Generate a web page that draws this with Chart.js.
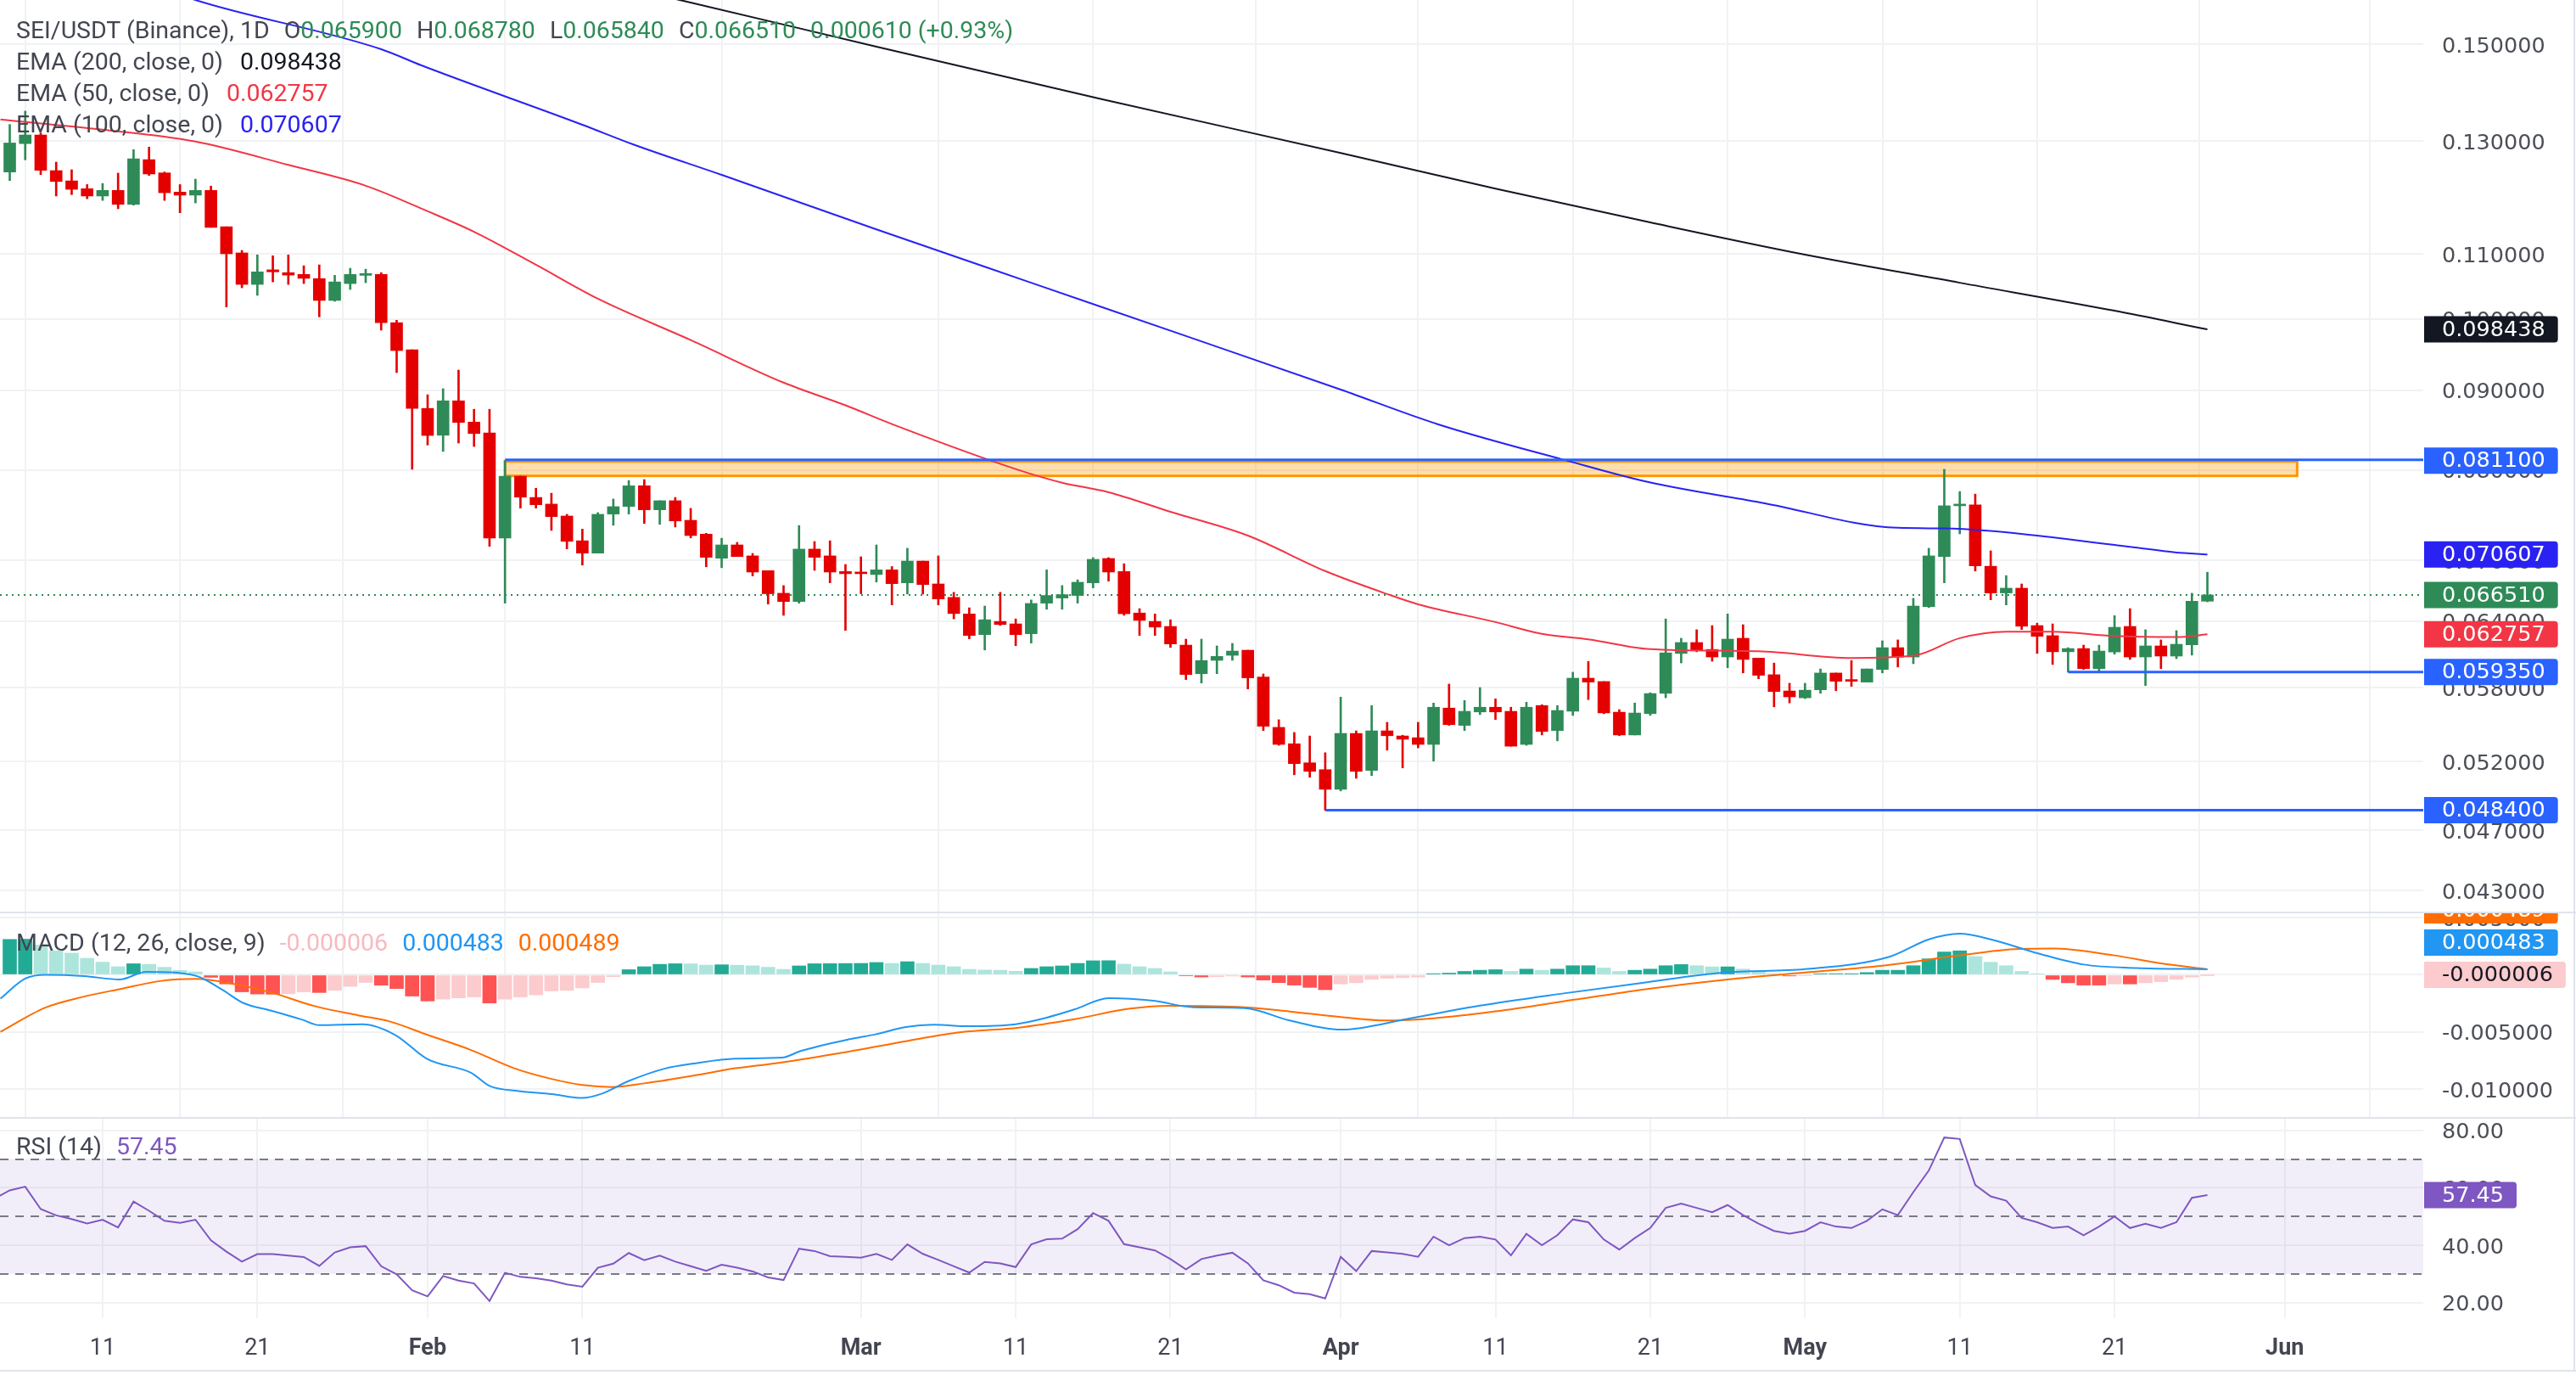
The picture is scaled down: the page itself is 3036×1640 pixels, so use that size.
<!DOCTYPE html>
<html lang="en">
<head>
<meta charset="utf-8">
<title>SEI/USDT 1D</title>
<script src="https://cdn.jsdelivr.net/npm/chart.js@4.4.1/dist/chart.umd.min.js"></script>
<style>
	html, body { margin: 0; padding: 0; background: #ffffff; overflow: hidden; }
	#board { position: relative; width: 3036px; height: 1640px; overflow: hidden; background: #ffffff; }
	#board canvas { position: absolute; left: 0; }
	.rule { position: absolute; background: #e0e3eb; }
	.legend { position: absolute; left: 19px; z-index: 5; font-family: Roboto, "Noto Sans", sans-serif; font-size: 28.5px; line-height: 37px; color: #434651; white-space: pre; }
</style>
</head>
<body>
<div id="board">
	<canvas id="priceChart" width="3036" height="1074" style="top:0"></canvas>
	<canvas id="macdChart" width="3036" height="240" style="top:1076px"></canvas>
	<canvas id="rsiChart" width="3036" height="298" style="top:1318px"></canvas>
	<div class="rule" style="left:0;top:1074px;width:3036px;height:2px"></div>
	<div class="rule" style="left:0;top:1316px;width:3036px;height:2px"></div>
	<div class="rule" style="left:0;top:1614px;width:3036px;height:2px"></div>
	<div class="rule" style="left:3033px;top:0;width:2px;height:1616px"></div>
	<div class="legend" id="priceLegend" style="top:17px"></div>
	<div class="legend" id="macdLegend" style="top:1092px"></div>
	<div class="legend" id="rsiLegend" style="top:1332px"></div>
</div>
<script>
/**
 * SEI/USDT daily chart with EMA, MACD and RSI panes.
 * Day numbers count from Jan 1 2025 (= day 0).
 */

// ---- candles (first candle is Jan 5 = day 4) ----
const firstDay = 4;
const opens = [
	0.12419, 0.12951, 0.13117, 0.12445, 0.12258, 0.12117, 0.11987, 0.12086, 0.11840, 0.12648,
	0.12403, 0.12056, 0.12002, 0.12086, 0.11455, 0.11021, 0.10520, 0.10749, 0.10704, 0.10676,
	0.10611, 0.10274, 0.10533, 0.10662, 0.10676, 0.09942, 0.09553, 0.08760, 0.08420, 0.08859,
	0.08585, 0.08449, 0.07235, 0.07926, 0.07681, 0.07606, 0.07473, 0.07205, 0.07075, 0.07495,
	0.07580, 0.07815, 0.07542, 0.07644, 0.07426, 0.07276, 0.07022, 0.07161, 0.07046, 0.06894,
	0.06668, 0.06587, 0.07117, 0.07046, 0.06885, 0.06877, 0.06855, 0.06902, 0.06771, 0.06992,
	0.06760, 0.06627, 0.06467, 0.06273, 0.06396, 0.06373, 0.06281, 0.06571, 0.06621, 0.06646,
	0.06771, 0.07019, 0.06885, 0.06476, 0.06396, 0.06349, 0.06176, 0.05921, 0.06039, 0.06084,
	0.06130, 0.05892, 0.05470, 0.05339, 0.05191, 0.05139, 0.04992, 0.05421, 0.05133, 0.05442,
	0.05401, 0.05387, 0.05334, 0.05628, 0.05486, 0.05596, 0.05635, 0.05601, 0.05334, 0.05649,
	0.05444, 0.05602, 0.05882, 0.05853, 0.05594, 0.05409, 0.05582, 0.05752, 0.06101, 0.06200,
	0.06137, 0.06069, 0.06239, 0.06059, 0.05912, 0.05772, 0.05714, 0.05782, 0.05927, 0.05870,
	0.05848, 0.05958, 0.06153, 0.06069, 0.06537, 0.07039, 0.07587, 0.07596, 0.06939, 0.06671,
	0.06718, 0.06357, 0.06263, 0.06116, 0.06145, 0.05965, 0.06114, 0.06349, 0.06069, 0.06169,
	0.06077, 0.06179, 0.06590
];
const highs = [
	0.13322, 0.13588, 0.13156, 0.12602, 0.12461, 0.12191, 0.12211, 0.12399, 0.12836, 0.12884,
	0.12419, 0.12191, 0.12289, 0.12164, 0.11455, 0.11062, 0.10989, 0.10975, 0.10989, 0.10814,
	0.10828, 0.10662, 0.10773, 0.10759, 0.10704, 0.09978, 0.09553, 0.08939, 0.09019, 0.09270,
	0.08749, 0.08749, 0.08110, 0.07926, 0.07786, 0.07729, 0.07492, 0.07330, 0.07511, 0.07663,
	0.07875, 0.07886, 0.07644, 0.07681, 0.07558, 0.07285, 0.07232, 0.07188, 0.07072, 0.06894,
	0.06744, 0.07369, 0.07197, 0.07205, 0.06957, 0.07037, 0.07161, 0.06936, 0.07126, 0.06992,
	0.07046, 0.06677, 0.06526, 0.06543, 0.06677, 0.06420, 0.06602, 0.06902, 0.06744, 0.06802,
	0.07028, 0.07028, 0.06965, 0.06518, 0.06467, 0.06412, 0.06231, 0.06231, 0.06169, 0.06192,
	0.06130, 0.05919, 0.05532, 0.05429, 0.05401, 0.05269, 0.05720, 0.05442, 0.05649, 0.05511,
	0.05407, 0.05511, 0.05670, 0.05831, 0.05691, 0.05801, 0.05705, 0.05635, 0.05677, 0.05656,
	0.05649, 0.05934, 0.06029, 0.05853, 0.05615, 0.05670, 0.05757, 0.06420, 0.06239, 0.06318,
	0.06357, 0.06467, 0.06365, 0.06059, 0.06015, 0.05838, 0.05838, 0.05963, 0.05927, 0.06037,
	0.05963, 0.06216, 0.06224, 0.06618, 0.07126, 0.08007, 0.07748, 0.07719, 0.07099, 0.06844,
	0.06760, 0.06380, 0.06373, 0.06153, 0.06176, 0.06176, 0.06451, 0.06518, 0.06318, 0.06224,
	0.06310, 0.06668, 0.06878
];
const lows = [
	0.12263, 0.12644, 0.12372, 0.11987, 0.12012, 0.11939, 0.11909, 0.11763, 0.11826, 0.12356,
	0.11909, 0.11694, 0.11865, 0.11444, 0.10175, 0.10468, 0.10352, 0.10559, 0.10520, 0.10533,
	0.10028, 0.10261, 0.10442, 0.10546, 0.09833, 0.09236, 0.08007, 0.08299, 0.08221, 0.08323,
	0.08281, 0.07146, 0.06571, 0.07561, 0.07561, 0.07316, 0.07119, 0.06951, 0.07075, 0.07372,
	0.07495, 0.07391, 0.07382, 0.07353, 0.07235, 0.06933, 0.06924, 0.07039, 0.06840, 0.06562,
	0.06454, 0.06571, 0.06897, 0.06771, 0.06312, 0.06663, 0.06779, 0.06554, 0.06660, 0.06660,
	0.06554, 0.06420, 0.06234, 0.06132, 0.06359, 0.06171, 0.06195, 0.06512, 0.06512, 0.06571,
	0.06721, 0.06788, 0.06454, 0.06265, 0.06265, 0.06155, 0.05870, 0.05840, 0.05921, 0.06039,
	0.05789, 0.05444, 0.05327, 0.05100, 0.05081, 0.04840, 0.04980, 0.05074, 0.05094, 0.05289,
	0.05152, 0.05307, 0.05204, 0.05486, 0.05444, 0.05574, 0.05534, 0.05320, 0.05327, 0.05409,
	0.05362, 0.05567, 0.05699, 0.05581, 0.05403, 0.05409, 0.05567, 0.05714, 0.06016, 0.06116,
	0.06031, 0.05973, 0.05928, 0.05877, 0.05638, 0.05671, 0.05707, 0.05752, 0.05774, 0.05811,
	0.05848, 0.05928, 0.05980, 0.06009, 0.06529, 0.06771, 0.07279, 0.06890, 0.06604, 0.06554,
	0.06320, 0.06101, 0.06002, 0.05935, 0.05958, 0.05943, 0.06094, 0.06047, 0.05818, 0.05965,
	0.06054, 0.06086, 0.06584
];
const closes = [
	0.12963, 0.13117, 0.12450, 0.12247, 0.12106, 0.11987, 0.12086, 0.11840, 0.12664, 0.12383,
	0.12045, 0.12002, 0.12086, 0.11444, 0.11007, 0.10520, 0.10717, 0.10717, 0.10666, 0.10615,
	0.10274, 0.10559, 0.10676, 0.10690, 0.09942, 0.09541, 0.08760, 0.08417, 0.08859, 0.08581,
	0.08441, 0.07235, 0.07926, 0.07684, 0.07599, 0.07467, 0.07199, 0.07075, 0.07492, 0.07577,
	0.07814, 0.07542, 0.07644, 0.07419, 0.07261, 0.07031, 0.07161, 0.07039, 0.06880, 0.06663,
	0.06587, 0.07117, 0.07031, 0.06880, 0.06863, 0.06863, 0.06902, 0.06763, 0.06992, 0.06754,
	0.06612, 0.06471, 0.06265, 0.06412, 0.06367, 0.06273, 0.06568, 0.06646, 0.06654, 0.06777,
	0.07010, 0.06880, 0.06469, 0.06406, 0.06343, 0.06187, 0.05914, 0.06037, 0.06074, 0.06122,
	0.05885, 0.05479, 0.05334, 0.05185, 0.05126, 0.04992, 0.05421, 0.05126, 0.05442, 0.05403,
	0.05375, 0.05334, 0.05635, 0.05492, 0.05601, 0.05635, 0.05596, 0.05320, 0.05635, 0.05437,
	0.05608, 0.05882, 0.05848, 0.05588, 0.05409, 0.05587, 0.05750, 0.06106, 0.06200, 0.06132,
	0.06069, 0.06231, 0.06047, 0.05907, 0.05767, 0.05722, 0.05779, 0.05927, 0.05855, 0.05855,
	0.05963, 0.06153, 0.06069, 0.06543, 0.07046, 0.07587, 0.07606, 0.06942, 0.06671, 0.06718,
	0.06351, 0.06257, 0.06116, 0.06145, 0.05965, 0.06122, 0.06341, 0.06069, 0.06169, 0.06077,
	0.06184, 0.06590, 0.06651
];

// ---- moving averages at these days ----
const ema50Days = [3.4, 10, 16, 22, 27, 31, 34, 38, 42, 48, 54, 58, 61, 69, 72, 75, 79, 84, 89, 93, 95, 100, 103, 106, 110, 117, 123, 127, 130, 133, 136, 140, 144, 146];
const ema50 = [0.1342, 0.1322, 0.1299, 0.1255, 0.1217, 0.1172, 0.1137, 0.1083, 0.1030, 0.0969, 0.0910, 0.0880, 0.0856, 0.0801, 0.0785, 0.0774, 0.0752, 0.0726, 0.0689, 0.0666, 0.0656, 0.0639, 0.0628, 0.0623, 0.0614, 0.0612, 0.0606, 0.0608, 0.0624, 0.0630, 0.0630, 0.0626, 0.0625, 0.062757];
const ema100Days = [10, 16, 28, 30.6, 41, 44.3, 50, 60, 70, 80, 90, 96.3, 104.4, 109.9, 117.4, 126, 128.9, 131.8, 139.9, 143.9, 146];
const ema100 = [0.1683, 0.1601, 0.14888, 0.14537, 0.13317, 0.12934, 0.12367, 0.11411, 0.10546, 0.09748, 0.09007, 0.08556, 0.08121, 0.07856, 0.07615, 0.07344, 0.07338, 0.07313, 0.07164, 0.07084, 0.070607];
const ema200Days = [40, 47.7, 60, 74.6, 90, 100, 110, 120, 130, 140, 146];
const ema200 = [0.16623, 0.15976, 0.14944, 0.13827, 0.12773, 0.12117, 0.11528, 0.10993, 0.10546, 0.10119, 0.098438];

// ---- drawings: supply zone and horizontal levels ----
const zoneDays = [36, 151.8];
const zonePrices = [0.0811, 0.0793];
const levelPrices = [0.0811, 0.05935, 0.0484];
const levelStartDays = [36, 137, 89];

// ---- MACD (12, 26, 9) ----
const macdHist = [
	0.0031, 0.00312, 0.0026, 0.0021, 0.0019, 0.00145, 0.00111, 0.00071, 0.00097, 0.00092,
	0.00066, 0.00039, 0.00026, -0.00022, -0.0008, -0.00149, -0.00168, -0.0017, -0.00166, -0.00149,
	-0.00155, -0.00136, -0.00101, -0.00067, -0.00091, -0.0012, -0.00186, -0.00229, -0.00213, -0.00202,
	-0.00194, -0.00247, -0.00213, -0.00194, -0.00176, -0.00141, -0.00136, -0.00115, -0.00067, -0.00016,
	0.00045, 0.00071, 0.00092, 0.00097, 0.00096, 0.00085, 0.00088, 0.00084, 0.00079, 0.00066,
	0.00048, 0.00078, 0.00097, 0.00098, 0.00099, 0.001, 0.00108, 0.001, 0.00115, 0.001,
	0.00085, 0.00071, 0.00048, 0.00042, 0.0004, 0.00031, 0.00056, 0.00071, 0.00078, 0.001,
	0.00123, 0.00124, 0.00093, 0.00071, 0.00056, 0.00026, -0.00009, -0.00019, -0.00016, -0.00011,
	-0.00019, -0.00046, -0.00068, -0.0009, -0.0011, -0.0013, -0.0008, -0.0007, -0.0004, -0.0003,
	-0.00025, -0.0002, 0.0001, 0.00015, 0.0003, 0.0004, 0.00045, 0.0003, 0.0005, 0.0004,
	0.0005, 0.0008, 0.0008, 0.0006, 0.0003, 0.0004, 0.0005, 0.0008, 0.0009, 0.0008,
	0.0007, 0.0007, 0.0005, 0.0003, 0.0001, -0.0001, -0.00005, 0.0001, 0.0001, 0.0001,
	0.0002, 0.0004, 0.0004, 0.0008, 0.0014, 0.002, 0.0021, 0.0016, 0.0011, 0.0008,
	0.0003, 0.0001, -0.0004, -0.0007, -0.0009, -0.0009, -0.0008, -0.0008, -0.0007, -0.0006,
	-0.0004, -0.0002, -0.000006
];
const macdDays = [3.4, 5, 6.3, 8.8, 11.1, 12.8, 16, 17.7, 19.1, 20.9, 22.9, 24, 26.8, 28.9, 31, 33.8, 35, 36.9, 39, 41, 42.2, 44, 46.4, 48.1, 50.9, 53.9, 55.1, 58.2, 60, 61.9, 63.7, 66, 69, 71, 72.8, 75, 77.9, 80.5, 83.8, 86.7, 90, 94.5, 99, 104, 109.5, 114.8, 120, 125.5, 128, 130, 132, 135, 138, 141.4, 146];
const macdLine = [-0.00207, -0.00033, 0.0, -0.00011, -0.00041, 0.00026, -0.00008, -0.00128, -0.00247, -0.00314, -0.00393, -0.00441, -0.00433, -0.00526, -0.00739, -0.00857, -0.00972, -0.01017, -0.01043, -0.01078, -0.01043, -0.00929, -0.00818, -0.00778, -0.00733, -0.00725, -0.00667, -0.00565, -0.00519, -0.00457, -0.00437, -0.0045, -0.00432, -0.00375, -0.00303, -0.00204, -0.00227, -0.00284, -0.00291, -0.004, -0.0048, -0.0038, -0.0027, -0.0017, -0.0007, 0.0002, 0.0005, 0.0016, 0.0031, 0.0036, 0.0031, 0.0019, 0.0009, 0.0006, 0.000483];
const signalDays = [3.4, 6.3, 8.7, 11, 13.8, 16, 18.1, 20.9, 23.7, 26.5, 28.5, 31, 33.8, 36.6, 39, 41, 42.9, 45, 48.1, 50.9, 53.7, 58.2, 61.9, 65.5, 69.2, 72.8, 76.4, 78.9, 83.8, 86.7, 90, 93, 96, 100, 105, 110, 115, 120, 125, 130, 133, 136, 140, 143, 146];
const signalLine = [-0.00499, -0.00287, -0.00194, -0.00128, -0.00053, -0.00035, -0.0007, -0.00155, -0.00274, -0.00354, -0.00406, -0.00526, -0.00658, -0.00818, -0.00911, -0.00964, -0.00982, -0.0095, -0.00884, -0.00818, -0.0077, -0.00672, -0.00581, -0.00502, -0.00462, -0.00388, -0.00296, -0.00271, -0.00284, -0.00321, -0.0037, -0.004, -0.0038, -0.0032, -0.0022, -0.0012, -0.0004, 0.0002, 0.0008, 0.0017, 0.0022, 0.0023, 0.0017, 0.001, 0.000489];

// ---- RSI (14), first value is day 3 ----
const rsiFirstDay = 3;
const rsi = [
	56.2,
	59.1, 60.4, 52.6, 50.4, 49.1, 47.6, 48.9, 46.2, 55.2, 52.0,
	48.5, 47.8, 48.9, 41.7, 37.8, 34.3, 36.9, 36.9, 36.4, 35.9,
	32.8, 37.5, 39.3, 39.7, 32.7, 29.9, 24.3, 22.2, 29.3, 27.7,
	26.7, 20.6, 30.4, 29.0, 28.5, 27.7, 26.4, 25.6, 32.2, 33.6,
	37.3, 34.8, 36.4, 34.3, 32.7, 31.1, 33.2, 32.2, 30.9, 28.8,
	27.9, 38.8, 38.0, 36.2, 36.0, 35.7, 37.0, 34.9, 40.3, 37.0,
	34.9, 32.7, 30.5, 34.2, 33.7, 32.4, 40.3, 42.1, 42.3, 45.6,
	51.2, 48.5, 40.4, 39.3, 38.2, 35.2, 31.6, 35.2, 36.4, 37.4,
	33.7, 27.8, 26.1, 23.5, 23.0, 21.5, 36.0, 31.0, 38.0, 37.5,
	37.0, 36.0, 43.0, 40.0, 42.5, 43.0, 42.0, 36.5, 44.0, 40.0,
	43.5, 49.0, 48.0, 42.0, 38.5, 42.5, 46.0, 53.0, 54.5, 53.0,
	51.5, 54.0, 50.5, 47.5, 45.0, 44.0, 45.0, 48.0, 46.5, 46.0,
	48.5, 52.5, 50.5, 58.5, 66.0, 77.5, 77.0, 61.0, 57.0, 55.5,
	49.5, 48.0, 46.0, 46.5, 43.5, 46.5, 50.0, 46.0, 47.5, 46.0,
	48.0, 56.5, 57.45
];
const rsiBands = [70, 50, 30];

// ---- axes ----
const timeTickDays = [10, 20, 31, 41, 59, 69, 79, 90, 100, 110, 120, 130, 140, 151];
const timeTickLabels = ["11", "21", "Feb", "11", "Mar", "11", "21", "Apr", "11", "21", "May", "11", "21", "Jun"];
const priceTicks = [0.15, 0.13, 0.11, 0.10, 0.09, 0.08, 0.07, 0.064, 0.058, 0.052, 0.047, 0.043];
const macdTicks = [0.005, 0, -0.005, -0.01];
const rsiTicks = [80, 60, 40, 20];

// ---- look ----
const UP = "#2e8b57";
const DOWN = "#e50000";
const GRID = "#f1f2f4";
const AXIS_TEXT = "#4c4f57";
const EMA200_COLOR = "#131722";
const EMA50_COLOR = "#f23645";
const EMA100_COLOR = "#2a22f2";
const LEVEL_COLOR = "#2962ff";
const MACD_COLOR = "#2196f3";
const SIGNAL_COLOR = "#ff6d00";
const RSI_COLOR = "#7e57c2";
const AXIS_FONT = { family: "'DejaVu Sans', sans-serif", size: 25.5 };
const AXIS_W = 180;
const X_MIN = 3.37;
const X_MAX = 159.95;

Chart.defaults.animation = false;
Chart.defaults.font.family = "Roboto, 'Noto Sans', sans-serif";
Chart.defaults.plugins.legend.display = false;
Chart.defaults.plugins.tooltip.enabled = false;

function pairs(xs, ys) {
	return xs.map(function (x, i) {
		return { x: x, y: ys[i] };
	});
}

function last(arr) {
	return arr[arr.length - 1];
}

/**
 * Shared time axis: same day range in all three panes
 */
function timeAxis(showLabels) {
	return {
		type: "linear",
		min: X_MIN,
		max: X_MAX,
		offset: false,
		afterBuildTicks: function (scale) {
			scale.ticks = timeTickDays.map(function (d) {
				return { value: d };
			});
		},
		grid: { color: GRID, lineWidth: 2, drawTicks: false },
		border: { display: false },
		ticks: {
			display: showLabels,
			autoSkip: false,
			maxRotation: 0,
			padding: 20,
			color: "#434651",
			font: function (ctx) {
				const label = timeTickLabels[ctx.index] || "";
				return { size: 27, weight: /^[A-Z]/.test(label) ? "bold" : "normal" };
			},
			callback: function (value, index) {
				return timeTickLabels[index];
			},
		},
		afterFit: function (scale) {
			scale.height = showLabels ? 63 : 0;
			scale.paddingLeft = 0;
			scale.paddingRight = 0;
		},
	};
}

/**
 * Right hand value axis, fixed width like the TradingView price scale
 */
function valueAxis(type, min, max, ticks, digits) {
	return {
		type: type,
		position: "right",
		min: min,
		max: max,
		afterBuildTicks: function (scale) {
			scale.ticks = ticks.map(function (v) {
				return { value: v };
			});
		},
		grid: { color: GRID, lineWidth: 2, drawTicks: false },
		border: { display: false },
		ticks: {
			autoSkip: false,
			padding: 22,
			labelOffset: 3,
			color: AXIS_TEXT,
			font: AXIS_FONT,
			callback: function (v) {
				return Number(v).toFixed(digits);
			},
		},
		afterFit: function (scale) {
			scale.width = AXIS_W;
			scale.paddingTop = 0;
			scale.paddingBottom = 0;
		},
	};
}

/**
 * Coloured value tags on the price scale; overlapping tags are pushed upwards
 */
function tagPlugin(tags) {
	return {
		id: "tags",
		afterDraw: function (chart) {
			const ctx = chart.ctx;
			const yScale = chart.scales.y;
			const area = chart.chartArea;
			const h = 31;
			const placed = tags.map(function (t) {
				return Object.assign({}, t, { py: yScale.getPixelForValue(t.value) });
			});
			placed.sort(function (a, b) {
				return b.py - a.py;
			});
			for (let i = 1; i < placed.length; i++) {
				const limit = placed[i - 1].py - h - 7;
				if (placed[i].py > limit) placed[i].py = limit;
			}
			ctx.save();
			ctx.beginPath();
			ctx.rect(area.right, 0, chart.width - area.right, chart.height);
			ctx.clip();
			ctx.font = "25.5px 'DejaVu Sans', sans-serif";
			ctx.textBaseline = "middle";
			placed.forEach(function (t) {
				const w = ctx.measureText(t.text).width + 36;
				ctx.fillStyle = t.bg;
				ctx.beginPath();
				ctx.roundRect(area.right + 1, t.py - h / 2, w, h, [0, 4, 4, 0]);
				ctx.fill();
				ctx.fillStyle = t.fg || "#ffffff";
				ctx.fillText(t.text, area.right + 22, t.py + 1);
			});
			ctx.restore();
		},
	};
}

// ---- price pane ----
const candleDays = opens.map(function (o, i) {
	return firstDay + i;
});
const candleColors = opens.map(function (o, i) {
	return closes[i] >= o ? UP : DOWN;
});

const drawingsPlugin = {
	id: "drawings",
	beforeDatasetsDraw: function (chart) {
		const ctx = chart.ctx;
		const x = chart.scales.x;
		const y = chart.scales.y;
		const area = chart.chartArea;
		ctx.save();
		// supply zone
		const zx0 = x.getPixelForValue(zoneDays[0]);
		const zx1 = x.getPixelForValue(zoneDays[1]);
		const zy0 = y.getPixelForValue(zonePrices[0]);
		const zy1 = y.getPixelForValue(zonePrices[1]);
		ctx.fillStyle = "rgba(255, 152, 0, 0.32)";
		ctx.fillRect(zx0, zy0, zx1 - zx0, zy1 - zy0);
		ctx.strokeStyle = "#ff9800";
		ctx.lineWidth = 3;
		ctx.strokeRect(zx0, zy0 + 1, zx1 - zx0, zy1 - zy0 - 1);
		// last price dotted line
		const py = Math.round(y.getPixelForValue(last(closes)));
		ctx.strokeStyle = UP;
		ctx.lineWidth = 2;
		ctx.setLineDash([2, 5]);
		ctx.beginPath();
		ctx.moveTo(area.left, py);
		ctx.lineTo(area.right, py);
		ctx.stroke();
		ctx.restore();
	},
	afterDatasetsDraw: function (chart) {
		const ctx = chart.ctx;
		const x = chart.scales.x;
		const y = chart.scales.y;
		const area = chart.chartArea;
		ctx.save();
		ctx.strokeStyle = LEVEL_COLOR;
		ctx.lineWidth = 3;
		levelPrices.forEach(function (p, i) {
			const ly = y.getPixelForValue(p) - (i === 0 ? 1 : 0);
			ctx.beginPath();
			ctx.moveTo(x.getPixelForValue(levelStartDays[i]), ly);
			ctx.lineTo(area.right, ly);
			ctx.stroke();
		});
		ctx.restore();
	},
};

function priceTag(value, bg) {
	return { value: value, text: value.toFixed(6), bg: bg };
}

new Chart(document.getElementById("priceChart"), {
	type: "bar",
	data: {
		datasets: [
			{
				type: "line",
				label: "EMA 200",
				data: pairs(ema200Days, ema200),
				borderColor: EMA200_COLOR,
				borderWidth: 2,
				pointRadius: 0,
				cubicInterpolationMode: "monotone",
				order: 0,
			},
			{
				type: "line",
				label: "EMA 100",
				data: pairs(ema100Days, ema100),
				borderColor: EMA100_COLOR,
				borderWidth: 2,
				pointRadius: 0,
				cubicInterpolationMode: "monotone",
				order: 0,
			},
			{
				type: "line",
				label: "EMA 50",
				data: pairs(ema50Days, ema50),
				borderColor: EMA50_COLOR,
				borderWidth: 2,
				pointRadius: 0,
				cubicInterpolationMode: "monotone",
				order: 0,
			},
			{
				label: "body",
				data: candleDays.map(function (d, i) {
					return { x: d, y: [opens[i], closes[i]] };
				}),
				backgroundColor: candleColors,
				barThickness: 14,
				minBarLength: 2,
				grouped: false,
				order: 1,
			},
			{
				label: "wick",
				data: candleDays.map(function (d, i) {
					return { x: d, y: [lows[i], highs[i]] };
				}),
				backgroundColor: candleColors,
				barThickness: 2,
				grouped: false,
				order: 2,
			},
		],
	},
	options: {
		responsive: false,
		devicePixelRatio: 1,
		layout: { padding: 0 },
		scales: {
			x: timeAxis(false),
			y: valueAxis("logarithmic", 0.041673, 0.1601, priceTicks, 6),
		},
	},
	plugins: [
		drawingsPlugin,
		tagPlugin([
			priceTag(last(ema200), EMA200_COLOR),
			priceTag(levelPrices[0], LEVEL_COLOR),
			priceTag(last(ema100), EMA100_COLOR),
			priceTag(last(closes), UP),
			priceTag(last(ema50), EMA50_COLOR),
			priceTag(levelPrices[1], LEVEL_COLOR),
			priceTag(levelPrices[2], LEVEL_COLOR),
		]),
	],
});

// ---- MACD pane ----
const histColors = macdHist.map(function (v, i) {
	const prev = i > 0 ? macdHist[i - 1] : v;
	if (v >= 0) return v >= prev ? "#22ab94" : "#ace5dc";
	return v <= prev ? "#ff5252" : "#fccbcd";
});

new Chart(document.getElementById("macdChart"), {
	type: "bar",
	data: {
		datasets: [
			{
				type: "line",
				label: "MACD",
				data: pairs(macdDays, macdLine),
				borderColor: MACD_COLOR,
				borderWidth: 2,
				pointRadius: 0,
				cubicInterpolationMode: "monotone",
				order: 0,
			},
			{
				type: "line",
				label: "Signal",
				data: pairs(signalDays, signalLine),
				borderColor: SIGNAL_COLOR,
				borderWidth: 2,
				pointRadius: 0,
				cubicInterpolationMode: "monotone",
				order: 0,
			},
			{
				label: "Histogram",
				data: macdHist.map(function (v, i) {
					return { x: firstDay + i, y: v };
				}),
				backgroundColor: histColors,
				barThickness: 16,
				grouped: false,
				order: 1,
			},
		],
	},
	options: {
		responsive: false,
		devicePixelRatio: 1,
		layout: { padding: 0 },
		scales: {
			x: timeAxis(false),
			y: valueAxis("linear", -0.012444, 0.005386, macdTicks, 6),
		},
	},
	plugins: [
		tagPlugin([
			{ value: last(macdHist), text: last(macdHist).toFixed(6), bg: "#fccbcd", fg: "#131722" },
			{ value: last(macdLine), text: last(macdLine).toFixed(6), bg: MACD_COLOR },
			{ value: last(signalLine), text: last(signalLine).toFixed(6), bg: SIGNAL_COLOR },
		]),
	],
});

// ---- RSI pane ----
const rsiBandPlugin = {
	id: "rsiBand",
	beforeDatasetsDraw: function (chart) {
		const ctx = chart.ctx;
		const y = chart.scales.y;
		const area = chart.chartArea;
		const top = y.getPixelForValue(rsiBands[0]);
		const bottom = y.getPixelForValue(rsiBands[rsiBands.length - 1]);
		ctx.save();
		ctx.fillStyle = "rgba(126, 87, 194, 0.1)";
		ctx.fillRect(area.left, top, area.right - area.left, bottom - top);
		ctx.strokeStyle = "#787b86";
		ctx.lineWidth = 2;
		ctx.setLineDash([10, 8]);
		rsiBands.forEach(function (b) {
			const by = Math.round(y.getPixelForValue(b));
			ctx.beginPath();
			ctx.moveTo(area.left, by);
			ctx.lineTo(area.right, by);
			ctx.stroke();
		});
		ctx.restore();
	},
};

new Chart(document.getElementById("rsiChart"), {
	type: "line",
	data: {
		datasets: [
			{
				label: "RSI",
				data: rsi.map(function (v, i) {
					return { x: rsiFirstDay + i, y: v };
				}),
				borderColor: RSI_COLOR,
				borderWidth: 2,
				pointRadius: 0,
				tension: 0,
			},
		],
	},
	options: {
		responsive: false,
		devicePixelRatio: 1,
		layout: { padding: 0 },
		scales: {
			x: timeAxis(true),
			y: valueAxis("linear", 14.63, 84.05, rsiTicks, 2),
		},
	},
	plugins: [
		rsiBandPlugin,
		tagPlugin([{ value: last(rsi), text: last(rsi).toFixed(2), bg: RSI_COLOR }]),
	],
});

// ---- legends (text from the last bar) ----
function legendLine(parent, parts) {
	const line = document.createElement("div");
	parts.forEach(function (p) {
		const s = document.createElement("span");
		s.textContent = p[0];
		if (p[1]) s.style.color = p[1];
		if (p[2]) s.style.marginLeft = p[2] + "px";
		line.appendChild(s);
	});
	parent.appendChild(line);
}

const n = closes.length;
const change = closes[n - 1] - closes[n - 2];
const changePct = (change / closes[n - 2]) * 100;
const ohlcColor = closes[n - 1] >= opens[n - 1] ? UP : DOWN;
const priceLegend = document.getElementById("priceLegend");
legendLine(priceLegend, [
	["SEI/USDT (Binance), 1D"],
	["O", null, 17], [opens[n - 1].toFixed(6), ohlcColor],
	["H", null, 17], [highs[n - 1].toFixed(6), ohlcColor],
	["L", null, 17], [lows[n - 1].toFixed(6), ohlcColor],
	["C", null, 17], [closes[n - 1].toFixed(6), ohlcColor],
	[change.toFixed(6) + " (" + (changePct >= 0 ? "+" : "") + changePct.toFixed(2) + "%)", ohlcColor, 17],
]);
legendLine(priceLegend, [["EMA (200, close, 0)"], [last(ema200).toFixed(6), EMA200_COLOR, 20]]);
legendLine(priceLegend, [["EMA (50, close, 0)"], [last(ema50).toFixed(6), EMA50_COLOR, 20]]);
legendLine(priceLegend, [["EMA (100, close, 0)"], [last(ema100).toFixed(6), EMA100_COLOR, 20]]);

legendLine(document.getElementById("macdLegend"), [
	["MACD (12, 26, close, 9)"],
	[last(macdHist).toFixed(6), "#f8b9be", 17],
	[last(macdLine).toFixed(6), MACD_COLOR, 17],
	[last(signalLine).toFixed(6), SIGNAL_COLOR, 17],
]);
legendLine(document.getElementById("rsiLegend"), [["RSI (14)"], [last(rsi).toFixed(2), RSI_COLOR, 17]]);
</script>
</body>
</html>
